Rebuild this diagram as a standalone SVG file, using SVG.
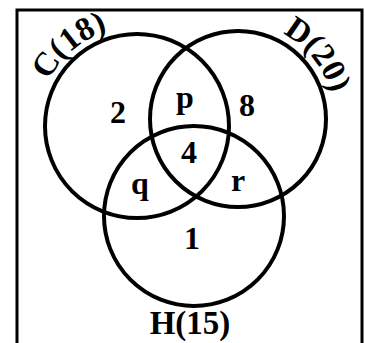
<svg xmlns="http://www.w3.org/2000/svg" width="365" height="343" viewBox="0 0 365 343">
<style>
.c{fill:none;stroke:#000;stroke-width:4}
.t{font-family:"Liberation Serif","Times New Roman",serif;font-weight:bold;font-size:32px;fill:#000;text-anchor:middle}
.l{font-size:33px}
</style>
<defs>
<path id="arcC" d="M38.4,117.4 A98,98 0 0 1 145.6,27.4"/>
<path id="arcD" d="M248.3,23.5 A95,95 0 0 1 333.5,129"/>
</defs>
<rect width="365" height="343" fill="#fff"/>
<rect x="17" y="10" width="345" height="345" fill="none" stroke="#000" stroke-width="3"/>
<g id="connectors"></g>
<g id="C"><circle class="c" cx="137" cy="126" r="92"/><text class="t l"><textPath href="#arcC" startOffset="50%">C(18)</textPath></text></g>
<g id="D"><circle class="c" cx="238" cy="119" r="88"/><text class="t l"><textPath href="#arcD" startOffset="50%">D(20)</textPath></text></g>
<g id="H"><circle class="c" cx="194" cy="216" r="90"/><text class="t l" x="190" y="334">H(15)</text></g>
<g id="labels">
<text class="t" x="118" y="123">2</text>
<text class="t" x="185" y="108">p</text>
<text class="t" x="247" y="116">8</text>
<text class="t" x="189" y="163">4</text>
<text class="t" x="140" y="194">q</text>
<text class="t" x="238" y="191">r</text>
<text class="t" x="192" y="249">1</text>
</g>
</svg>
